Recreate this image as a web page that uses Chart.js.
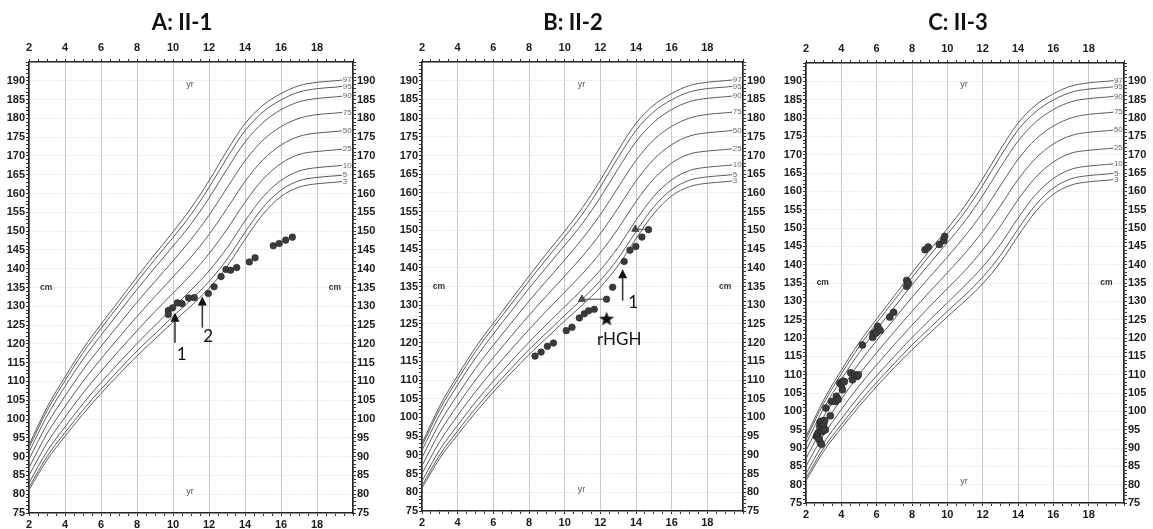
<!DOCTYPE html>
<html>
<head>
<meta charset="utf-8">
<title>Growth charts II-1, II-2, II-3</title>
<script src="https://cdn.jsdelivr.net/npm/chart.js@4.4.1/dist/chart.umd.min.js"></script>
<style>
  html, body { margin: 0; padding: 0; background: #fff; }
  body { width: 1153px; height: 529px; position: relative; overflow: hidden; }
  .panel { position: absolute; top: 0; height: 529px; }
</style>
</head>
<body>
<div class="panel" style="left:0;width:380px"><canvas id="chartA"></canvas></div>
<div class="panel" style="left:380px;width:395px"><canvas id="chartB"></canvas></div>
<div class="panel" style="left:775px;width:378px"><canvas id="chartC"></canvas></div>
<script>
// Reference centile curves (boys, height for age, cm)
const refAges = [2, 3, 4, 5, 6, 7, 8, 9, 10, 11, 12, 13, 14, 15, 16, 17, 18, 19, 19.4];
const centiles = ['3', '5', '10', '25', '50', '75', '90', '95', '97'];
const p3  = [81.1, 89.1, 95.4, 101.3, 106.8, 111.9, 116.8, 121.3, 125.8, 130.1, 134.8, 140.6, 147.8, 154.5, 159.2, 161.7, 162.6, 163.0, 163.2];
const p5  = [81.8, 90.0, 96.4, 102.4, 107.9, 113.1, 118.1, 122.7, 127.3, 131.7, 136.6, 142.5, 149.7, 156.3, 160.9, 163.4, 164.3, 164.7, 164.9];
const p10 = [83.0, 91.4, 97.9, 104.1, 109.7, 115.0, 120.1, 124.9, 129.6, 134.3, 139.4, 145.5, 152.7, 159.1, 163.5, 166.0, 166.9, 167.3, 167.5];
const p25 = [85.0, 93.6, 100.5, 106.9, 112.7, 118.2, 123.5, 128.6, 133.5, 138.4, 144.0, 150.5, 157.7, 163.8, 168.0, 170.4, 171.2, 171.6, 171.8];
const p50 = [87.1, 96.1, 103.3, 110.0, 116.0, 121.7, 127.3, 132.6, 137.8, 143.1, 149.1, 156.0, 163.2, 169.0, 172.9, 175.2, 176.1, 176.5, 176.7];
const p75 = [89.3, 98.6, 106.1, 113.1, 119.3, 125.2, 131.1, 136.6, 142.1, 147.8, 154.2, 161.5, 168.7, 174.2, 177.8, 180.0, 181.0, 181.4, 181.6];
const p90 = [91.2, 100.8, 108.7, 115.9, 122.3, 128.4, 134.5, 140.3, 146.0, 151.9, 158.8, 166.5, 173.7, 178.9, 182.3, 184.4, 185.3, 185.7, 185.9];
const p95 = [92.4, 102.2, 110.2, 117.6, 124.1, 130.3, 136.5, 142.5, 148.3, 154.4, 161.6, 169.5, 176.7, 181.7, 184.9, 187.0, 187.9, 188.3, 188.5];
const p97 = [93.1, 103.1, 111.2, 118.7, 125.2, 131.5, 137.8, 143.9, 149.8, 156.1, 163.4, 171.4, 178.6, 183.5, 186.6, 188.7, 189.6, 190.0, 190.2];
const refSeries = [p3, p5, p10, p25, p50, p75, p90, p95, p97];

// Axis ticks
const ageMin = 2, ageMax = 20;
const cmMin = 75, cmMax = 195;
const ageLabelStep = 2, cmLabelStep = 5, cmLabelTop = 190;

// A: II-1 measurements
const ageA    = [9.74, 9.74, 9.98, 10.24, 10.5, 10.87, 11.18, 11.96, 12.28, 12.67, 12.94, 13.2, 13.54, 14.24, 14.56, 15.57, 15.9, 16.26, 16.63];
const heightA = [128.9, 127.8, 129.6, 130.9, 130.7, 132.2, 132.3, 133.4, 135.2, 137.9, 139.8, 139.6, 140.3, 141.8, 142.9, 146.1, 146.7, 147.6, 148.4];

// B: II-2 measurements
const ageB    = [8.34, 8.68, 9.03, 9.37, 10.09, 10.41, 10.82, 11.1, 11.34, 11.66, 12.35, 12.69, 13.34, 13.66, 13.99, 14.33, 14.7];
const heightB = [116.4, 117.5, 119.0, 119.9, 123.2, 124.1, 126.6, 127.7, 128.5, 128.9, 131.6, 134.8, 141.7, 144.7, 145.7, 148.2, 150.2];
// B: bone age (triangle) joined to chronological age
const boneAgeB    = [10.97, 13.96];
const boneChronB  = [12.35, 14.7];
const boneHeightB = [131.6, 150.3];
// B: start of rHGH
const rhghAge = [12.35];
const rhghHeight = [126.4];

// C: II-3 measurements
const ageC    = [2.59, 2.64, 2.68, 2.72, 2.74, 2.78, 2.79, 2.82, 2.85, 2.87, 2.87, 2.91, 2.93, 2.98, 3.0, 3.06, 3.06, 3.09, 3.13, 3.38, 3.44,
                 3.68, 3.72, 3.79, 3.81, 3.91, 4.0, 4.06, 4.09, 4.17, 4.53, 4.63, 4.76, 4.89, 4.96, 5.19, 5.77, 5.81, 5.96, 5.98, 6.06,
                 6.19, 6.74, 6.96, 7.70, 7.70, 7.79, 8.74, 8.92, 9.55, 9.79, 9.85];
const heightC = [93.2, 93.6, 94.1, 92.5, 92.3, 95.9, 97.0, 91.4, 94.5, 97.3, 91.0, 95.2, 94.5, 96.6, 96.4, 97.5, 95.0, 95.0, 100.9, 98.8, 102.7,
                 102.7, 104.1, 103.4, 103.2, 107.7, 107.3, 105.9, 108.2, 108.1, 110.5, 108.6, 110.0, 109.5, 110.0, 118.1, 120.2, 121.2, 121.8, 121.4, 123.2,
                 122.1, 125.7, 127.0, 135.7, 134.1, 135.0, 144.1, 144.8, 145.5, 146.6, 147.7];

// Annotations (in age / cm units)
const arrowsA = [
  { age: 10.11, from: 120.3, to: 128.3, text: '1', textAge: 10.48, textCm: 117.2 },
  { age: 11.63, from: 124.3, to: 132.6, text: '2', textAge: 11.96, textCm: 122.0 }
];
const arrowsB = [
  { age: 13.25, from: 131.2, to: 139.6, text: '1', textAge: 13.84, textCm: 130.6 }
];
const textsB = [{ text: 'rHGH', age: 13.06, cm: 120.9 }];

function starImage(size) {
  const c = document.createElement('canvas');
  c.width = c.height = size;
  const g = c.getContext('2d');
  g.fillStyle = '#111';
  g.beginPath();
  for (let i = 0; i < 10; i++) {
    const r = i % 2 === 0 ? size / 2 : size / 4.8;
    const a = -Math.PI / 2 + i * Math.PI / 5;
    g.lineTo(size / 2 + r * Math.cos(a), size / 2 + r * 0.95 * Math.sin(a) + size * 0.04);
  }
  g.closePath();
  g.fill();
  return c;
}

function pairs(xs, ys) {
  return xs.map((v, i) => ({ x: v, y: ys[i] }));
}

function refDatasets() {
  return refSeries.map((vals, i) => ({
    type: 'line',
    label: 'P' + centiles[i],
    data: pairs(refAges, vals),
    borderColor: '#5c5c5c',
    borderWidth: 1,
    pointRadius: 0,
    cubicInterpolationMode: 'monotone',
    fill: false,
    order: 3
  }));
}

function dotDataset(xs, ys, radius) {
  return {
    type: 'scatter',
    label: 'height',
    data: pairs(xs, ys),
    pointRadius: radius,
    backgroundColor: '#3b3b3b',
    borderColor: '#262626',
    borderWidth: 0.6,
    order: 0
  };
}

// Draws titles, centile labels, axis captions, arrows and notes
const sketchPlugin = {
  id: 'sketch',
  afterDatasetsDraw(chart, args, opts) {
    const { ctx } = chart;
    const x = chart.scales.x, y = chart.scales.y;
    ctx.save();

    ctx.font = '8px "Liberation Sans", Arial, sans-serif';
    ctx.fillStyle = '#6a6a6a';
    ctx.textAlign = 'left';
    ctx.textBaseline = 'middle';
    const last = refAges.length - 1;
    refSeries.forEach((vals, i) => {
      ctx.fillText(centiles[i], x.getPixelForValue(refAges[last]) + 0.5, y.getPixelForValue(vals[last]));
    });

    ctx.textAlign = 'center';
    ctx.font = '9px "Liberation Sans", Arial, sans-serif';
    ctx.fillStyle = '#555';
    ctx.fillText('yr', x.getPixelForValue(10.95), y.getPixelForValue(189.1));
    ctx.fillText('yr', x.getPixelForValue(10.95), y.getPixelForValue(80.8));
    ctx.font = 'bold 8.5px "Liberation Sans", Arial, sans-serif';
    ctx.fillStyle = '#333';
    ctx.fillText('cm', x.getPixelForValue(2.95), y.getPixelForValue(135));
    ctx.fillText('cm', x.getPixelForValue(19.0), y.getPixelForValue(135));

    (opts.arrows || []).forEach(a => {
      const px = x.getPixelForValue(a.age);
      const y1 = y.getPixelForValue(a.from), y2 = y.getPixelForValue(a.to);
      ctx.strokeStyle = '#3a3a3a';
      ctx.lineWidth = 1.6;
      ctx.beginPath();
      ctx.moveTo(px, y1);
      ctx.lineTo(px, y2 + 6);
      ctx.stroke();
      ctx.fillStyle = '#111';
      ctx.beginPath();
      ctx.moveTo(px, y2);
      ctx.lineTo(px - 4.5, y2 + 9);
      ctx.lineTo(px + 4.5, y2 + 9);
      ctx.closePath();
      ctx.fill();
      ctx.font = '17px Lato, "Open Sans", sans-serif';
      ctx.fillText(a.text, x.getPixelForValue(a.textAge), y.getPixelForValue(a.textCm));
    });
    (opts.texts || []).forEach(t => {
      ctx.fillStyle = '#111';
      ctx.font = '17px Lato, "Open Sans", sans-serif';
      ctx.fillText(t.text, x.getPixelForValue(t.age), y.getPixelForValue(t.cm));
    });

    ctx.fillStyle = '#111';
    ctx.font = 'bold 22px Lato, "Open Sans", sans-serif';
    ctx.fillText(opts.title, opts.titleX, 23);
    ctx.restore();
  }
};

function ageTick(v) {
  return v % ageLabelStep === 0 && v < ageMax ? String(v) : '';
}
function cmTick(v) {
  return v % cmLabelStep === 0 && v <= cmLabelTop ? String(v) : '';
}

function makeChart(id, p, datasets) {
  const tickFont = { family: '"Liberation Sans", Arial, sans-serif', size: 11, weight: 'bold' };
  const frame = { color: '#262626', width: 1.6 };
  const xBase = {
    type: 'linear', min: ageMin, max: ageMax,
    ticks: { stepSize: 0.5, autoSkip: false, maxRotation: 0, minRotation: 0, padding: 2, color: '#1c1c1c', font: tickFont, callback: ageTick }
  };
  const yBase = {
    type: 'linear', min: cmMin, max: cmMax,
    ticks: { stepSize: 1, autoSkip: false, padding: 1, color: '#1c1c1c', font: tickFont, callback: cmTick }
  };
  return new Chart(document.getElementById(id), {
    data: { datasets: datasets },
    options: {
      responsive: true,
      maintainAspectRatio: false,
      animation: false,
      layout: { padding: { top: p.padTop, left: 0, right: 0, bottom: 0 } },
      plugins: {
        legend: { display: false },
        tooltip: { enabled: false },
        sketch: { title: p.title, titleX: p.titleX, arrows: p.arrows, texts: p.texts }
      },
      scales: {
        x: Object.assign({}, xBase, {
          position: 'bottom',
          grid: { color: c => (c.tick && c.tick.value % ageLabelStep === 0 ? '#c9c9c9' : 'transparent'), tickColor: '#333', tickLength: 3, lineWidth: 1 },
          border: frame,
          afterFit: s => { s.height = p.bottom; }
        }),
        x2: Object.assign({}, xBase, {
          position: 'top',
          ticks: Object.assign({}, xBase.ticks, { padding: 4 }),
          grid: { drawOnChartArea: false, tickColor: '#333', tickLength: 3 },
          border: frame,
          afterFit: s => { s.height = p.top; }
        }),
        y: Object.assign({}, yBase, {
          position: 'left',
          grid: { color: c => (c.tick && c.tick.value % cmLabelStep === 0 ? '#d4d4d4' : 'transparent'), tickColor: '#333', tickLength: 3, lineWidth: 1 },
          border: Object.assign({ dash: [1, 2] }, frame),
          afterFit: s => { s.width = p.left; }
        }),
        y2: Object.assign({}, yBase, {
          position: 'right',
          grid: { drawOnChartArea: false, tickColor: '#333', tickLength: 3 },
          border: frame,
          afterFit: s => { s.width = p.right; }
        })
      }
    },
    plugins: [sketchPlugin]
  });
}

// Panel A
makeChart('chartA',
  { title: 'A: II-1', titleX: 182, padTop: 38, top: 24, bottom: 16, left: 29, right: 27, arrows: arrowsA },
  refDatasets().concat([dotDataset(ageA, heightA, 3.3)]));

// Panel B
const boneSets = boneAgeB.map((b, i) => ({
  type: 'line',
  label: 'bone age',
  data: [{ x: b, y: boneHeightB[i] }, { x: boneChronB[i], y: boneHeightB[i] }],
  borderColor: '#4a4a4a',
  borderWidth: 1,
  pointStyle: 'triangle',
  pointRadius: [4.2, 0],
  backgroundColor: '#4a4a4a',
  pointBorderColor: '#4a4a4a',
  order: 1
}));
const starSet = {
  type: 'scatter',
  label: 'rHGH',
  data: pairs(rhghAge, rhghHeight),
  pointStyle: starImage(16),
  order: 0
};
makeChart('chartB',
  { title: 'B: II-2', titleX: 193, padTop: 38, top: 24, bottom: 18, left: 42, right: 32, arrows: arrowsB, texts: textsB },
  refDatasets().concat(boneSets, [dotDataset(ageB, heightB, 3.3), starSet]));

// Panel C
makeChart('chartC',
  { title: 'C: II-3', titleX: 183, padTop: 39, top: 24, bottom: 26, left: 31, right: 29 },
  refDatasets().concat([dotDataset(ageC, heightC, 3.5)]));
</script>
</body>
</html>
